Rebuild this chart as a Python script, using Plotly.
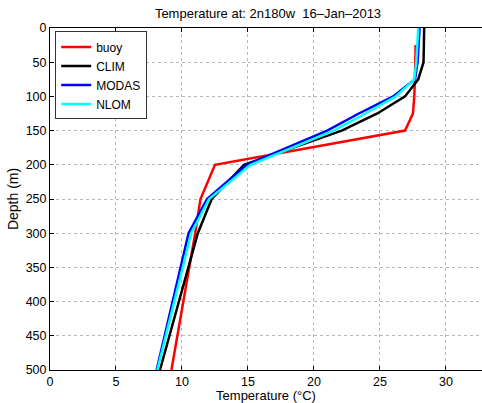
import plotly.graph_objects as go

buoy_depth = [25, 50, 75, 100, 125, 150, 200, 250, 300, 500]
buoy_temp = [27.7, 27.7, 27.65, 27.6, 27.5, 26.9, 12.5, 11.4, 11.0, 9.2]

model_depth = [0, 50, 75, 100, 125, 150, 200, 250, 300, 500]
clim_temp = [28.35, 28.3, 27.9, 26.9, 24.8, 22.1, 14.7, 12.25, 11.2, 8.33]
modas_temp = [28.0, 27.85, 27.65, 26.0, 23.4, 21.0, 14.9, 11.9, 10.5, 8.08]
nlom_temp = [27.9, 27.75, 27.6, 26.2, 23.9, 21.5, 15.2, 12.05, 10.7, 8.13]

x_ticks = [0, 5, 10, 15, 20, 25, 30]
y_ticks = [0, 50, 100, 150, 200, 250, 300, 350, 400, 450, 500]

fig = go.Figure()
series = [
    ("buoy", buoy_temp, buoy_depth, "#ff0000"),
    ("CLIM", clim_temp, model_depth, "#000000"),
    ("MODAS", modas_temp, model_depth, "#0000ff"),
    ("NLOM", nlom_temp, model_depth, "#00ffff"),
]
for name, t, d, c in series:
    fig.add_trace(go.Scatter(x=t, y=d, mode="lines", name=name,
                             line=dict(color=c, width=2.5)))

font = "Liberation Sans, Arial, sans-serif"
fig.update_layout(
    width=482, height=403,
    margin=dict(l=50, r=0, t=28, b=33),
    paper_bgcolor="white", plot_bgcolor="white",
    font=dict(family=font, size=13, color="black"),
    title=dict(text="Temperature at: 2n180w  16–Jan–2013", x=0.556, xanchor="center",
               y=1 - 13 / 403, yanchor="middle", font=dict(size=13, family=font)),
    showlegend=True,
    legend=dict(x=0.012, y=0.99, xanchor="left", yanchor="top",
                bordercolor="#333333", borderwidth=1, bgcolor="white",
                font=dict(size=12, family=font), tracegroupgap=0,
                itemwidth=30),
    xaxis=dict(range=[0, 32.73], tickvals=x_ticks, showgrid=True,
               gridcolor="#b8b8b8", griddash="dot", gridwidth=1,
               showline=True, linecolor="black", linewidth=1, mirror="allticks",
               ticks="inside", ticklen=4, tickcolor="black", zeroline=False,
               tickfont=dict(size=12.5),
               title=dict(text="Temperature (°C)", standoff=0, font=dict(size=13))),
    yaxis=dict(range=[500, 0], tickvals=y_ticks, showgrid=True,
               gridcolor="#b8b8b8", griddash="dot", gridwidth=1,
               showline=True, linecolor="black", linewidth=1,
               ticks="inside", ticklen=4, tickcolor="black", zeroline=False,
               tickfont=dict(size=12.5),
               title=dict(text="Depth (m)", standoff=3, font=dict(size=14))),
)

fig.write_html("out.html")
